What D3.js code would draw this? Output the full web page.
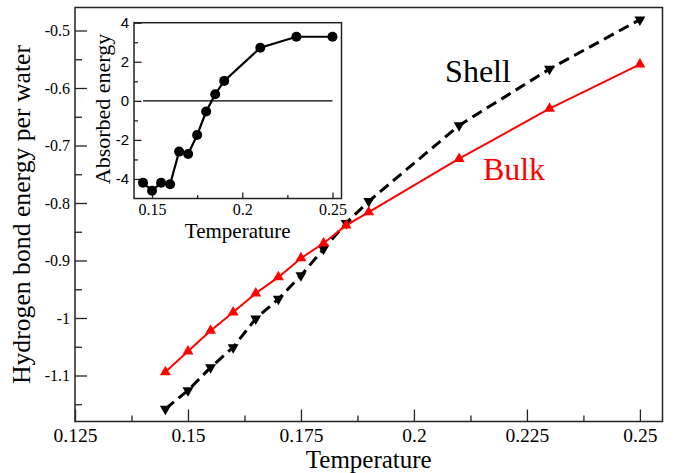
<!DOCTYPE html>
<html>
<head>
<meta charset="utf-8">
<script src="https://cdn.jsdelivr.net/npm/d3@7"></script>
<style>
  html, body { margin: 0; padding: 0; background: #fff; }
  svg { display: block; }
  .serif { font-family: "Liberation Serif", "DejaVu Serif", serif; }
  .sans { font-family: "Liberation Sans", "DejaVu Sans", sans-serif; }
</style>
</head>
<body>
<svg id="chart" width="673" height="473"></svg>
<script>
// ---------------- data ----------------
const temps    = [0.145, 0.15, 0.155, 0.16, 0.165, 0.17, 0.175, 0.18, 0.185, 0.19, 0.21, 0.23, 0.25];
const shell    = [-1.158, -1.126, -1.086, -1.051, -1.001, -0.967, -0.926, -0.880, -0.835, -0.797, -0.665, -0.567, -0.481];
const bulk     = [-1.094, -1.058, -1.022, -0.990, -0.957, -0.929, -0.896, -0.870, -0.839, -0.816, -0.723, -0.636, -0.559];
const absorbed = [-4.19, -4.60, -4.19, -4.27, -2.60, -2.72, -1.75, -0.55, 0.34, 1.02, 2.72, 3.28, 3.28];

const xTicks      = [0.125, 0.15, 0.175, 0.2, 0.225, 0.25];
const xTickLabels = ["0.125", "0.15", "0.175", "0.2", "0.225", "0.25"];
const xMinor      = [0.1375, 0.1625, 0.1875, 0.2125, 0.2375];
const yTicks      = [-0.5, -0.6, -0.7, -0.8, -0.9, -1.0, -1.1];
const yTickLabels = ["-0.5", "-0.6", "-0.7", "-0.8", "-0.9", "-1", "-1.1"];
const yMinor      = [-0.55, -0.65, -0.75, -0.85, -0.95, -1.05, -1.15];

const inXTicks      = [0.15, 0.2, 0.25];
const inXTickLabels = ["0.15", "0.2", "0.25"];
const inXMinor      = [0.175, 0.225];
const inYTicks      = [4, 2, 0, -2, -4];
const inYTickLabels = ["4", "2", "0", "-2", "-4"];
const inYMinor      = [3, 1, -1, -3];

// ---------------- layout ----------------
const svg = d3.select("#chart");
const frameCol = "#222";

const M = { left: 75, right: 662.5, top: 7.5, bottom: 421.5 };
const x = d3.scaleLinear().domain([0.125, 0.255]).range([M.left, M.right]);
const y = d3.scaleLinear().domain([-1.18, -0.46]).range([M.bottom, M.top]);

// frame
svg.append("rect").attr("x", M.left).attr("y", M.top)
  .attr("width", M.right - M.left).attr("height", M.bottom - M.top)
  .attr("fill", "#fff").attr("stroke", frameCol).attr("stroke-width", 1.5);

// main axes
function styleAxis(g) {
  g.attr("font-family", null);
  g.select(".domain").remove();
  g.selectAll(".tick line").attr("stroke", frameCol).attr("stroke-width", 1.3);
}
const gx = svg.append("g").attr("transform", `translate(0,${M.bottom})`)
  .call(d3.axisBottom(x).tickValues(xTicks).tickFormat((d, i) => xTickLabels[i])
    .tickSizeInner(-12).tickSizeOuter(0).tickPadding(0))
  .call(styleAxis);
gx.selectAll(".tick text").attr("y", 20).attr("dy", 0).attr("class", "serif")
  .style("font-size", "19.5px").attr("fill", "#000");
svg.append("g").attr("transform", `translate(0,${M.bottom})`)
  .call(d3.axisBottom(x).tickValues(xMinor).tickFormat("").tickSizeInner(-6).tickSizeOuter(0))
  .call(styleAxis);

const gy = svg.append("g").attr("transform", `translate(${M.left},0)`)
  .call(d3.axisLeft(y).tickValues(yTicks).tickFormat((d, i) => yTickLabels[i])
    .tickSizeInner(-12).tickSizeOuter(0).tickPadding(5))
  .call(styleAxis);
gy.selectAll(".tick text").attr("class", "serif").style("font-size", "16px").attr("fill", "#000");
svg.append("g").attr("transform", `translate(${M.left},0)`)
  .call(d3.axisLeft(y).tickValues(yMinor).tickFormat("").tickSizeInner(-7).tickSizeOuter(0))
  .call(styleAxis);

// axis titles
svg.append("text").attr("class", "serif").attr("x", (M.left + M.right) / 2).attr("y", 467.5)
  .attr("text-anchor", "middle").style("font-size", "25px")
  .text("Temperature");
svg.append("text").attr("class", "serif").attr("transform", `translate(30,${(M.top + M.bottom) / 2}) rotate(-90)`)
  .attr("text-anchor", "middle").style("font-size", "25.7px")
  .text("Hydrogen bond energy per water");

// series
const shellPts = temps.map((t, i) => [t, shell[i]]);
const bulkPts = temps.map((t, i) => [t, bulk[i]]);
const line = d3.line().x(d => x(d[0])).y(d => y(d[1]));

svg.append("path").datum(shellPts).attr("d", line)
  .attr("fill", "none").attr("stroke", "#000").attr("stroke-width", 3)
  .attr("stroke-dasharray", "11,6");
const tri = d3.symbol().type(d3.symbolTriangle).size(52);
svg.append("g").selectAll("path").data(shellPts).join("path")
  .attr("d", tri).attr("fill", "#000")
  .attr("transform", d => `translate(${x(d[0])},${y(d[1])}) rotate(180)`);

svg.append("path").datum(bulkPts).attr("d", line)
  .attr("fill", "none").attr("stroke", "#ff0000").attr("stroke-width", 2);
svg.append("g").selectAll("path").data(bulkPts).join("path")
  .attr("d", tri).attr("fill", "#ff0000")
  .attr("transform", d => `translate(${x(d[0])},${y(d[1])})`);

// series labels
svg.append("text").attr("class", "serif").attr("x", 478).attr("y", 81.5).attr("text-anchor", "middle")
  .style("font-size", "32px").attr("fill", "#000").text("Shell");
svg.append("text").attr("class", "serif").attr("x", 514).attr("y", 180).attr("text-anchor", "middle")
  .style("font-size", "32px").attr("fill", "#ff0000").text("Bulk");

// ---------------- inset ----------------
const I = { left: 134, right: 341.5, top: 22.7, bottom: 198.5 };
const ix = d3.scaleLinear().domain([0.14, 0.255]).range([I.left, I.right]);
const iy = d3.scaleLinear().domain([-5, 4]).range([I.bottom, I.top]);

svg.append("rect").attr("x", I.left).attr("y", I.top)
  .attr("width", I.right - I.left).attr("height", I.bottom - I.top)
  .attr("fill", "#fff").attr("stroke", frameCol).attr("stroke-width", 1.5);

const igx = svg.append("g").attr("transform", `translate(0,${I.bottom})`)
  .call(d3.axisBottom(ix).tickValues(inXTicks).tickFormat((d, i) => inXTickLabels[i])
    .tickSizeInner(-6).tickSizeOuter(0).tickPadding(0))
  .call(styleAxis);
igx.selectAll(".tick text").attr("y", 16.5).attr("dy", 0).attr("class", "serif")
  .style("font-size", "16px").attr("fill", "#000");
svg.append("g").attr("transform", `translate(0,${I.bottom})`)
  .call(d3.axisBottom(ix).tickValues(inXMinor).tickFormat("").tickSizeInner(-3.5).tickSizeOuter(0))
  .call(styleAxis);

const igy = svg.append("g").attr("transform", `translate(${I.left},0)`)
  .call(d3.axisLeft(iy).tickValues(inYTicks).tickFormat((d, i) => inYTickLabels[i])
    .tickSizeInner(-7.5).tickSizeOuter(0).tickPadding(5))
  .call(styleAxis);
igy.selectAll(".tick text").attr("class", "sans").style("font-size", "15px").attr("fill", "#000");
svg.append("g").attr("transform", `translate(${I.left},0)`)
  .call(d3.axisLeft(iy).tickValues(inYMinor).tickFormat("").tickSizeInner(-4).tickSizeOuter(0))
  .call(styleAxis);

// zero line
svg.append("line").attr("x1", ix(temps[0])).attr("x2", ix(temps[temps.length - 1]))
  .attr("y1", iy(0)).attr("y2", iy(0)).attr("stroke", "#000").attr("stroke-width", 1.2);

const absPts = temps.map((t, i) => [t, absorbed[i]]);
svg.append("path").datum(absPts)
  .attr("d", d3.line().x(d => ix(d[0])).y(d => iy(d[1])))
  .attr("fill", "none").attr("stroke", "#000").attr("stroke-width", 2.2);
svg.append("g").selectAll("circle").data(absPts).join("circle")
  .attr("cx", d => ix(d[0])).attr("cy", d => iy(d[1])).attr("r", 5).attr("fill", "#000");

svg.append("text").attr("class", "serif").attr("x", (I.left + I.right) / 2).attr("y", 237.5)
  .attr("text-anchor", "middle").style("font-size", "21px")
  .text("Temperature");
svg.append("text").attr("class", "serif").attr("transform", `translate(110,109) rotate(-90)`)
  .attr("text-anchor", "middle").style("font-size", "22px")
  .text("Absorbed energy");
</script>
</body>
</html>
